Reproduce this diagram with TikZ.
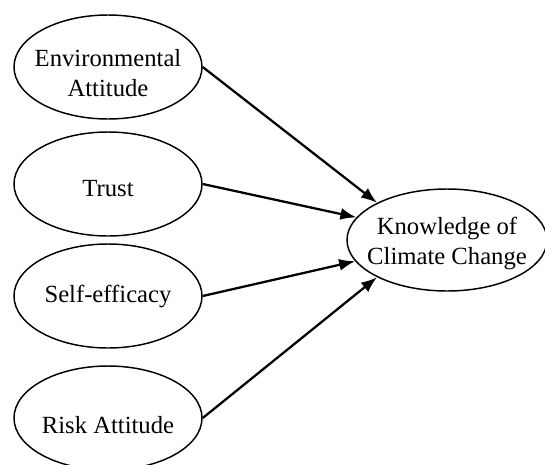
\documentclass[tikz,border=0pt]{standalone}
\usepackage{fontspec}
\setmainfont{Liberation Serif}
\usetikzlibrary{arrows.meta,shapes.geometric}

% Centred text of an oval, shifted vertically by #1; the box itself takes no room
\newcommand\ovaltext[2]{\makebox[0pt]{\raisebox{#1}[0pt][0pt]{\begin{tabular}{@{}c@{}}#2\end{tabular}}}}

\tikzset{
  oval/.style={ellipse, draw=black, line width=1.1pt, inner sep=0pt,
    minimum width=141pt, minimum height=78pt,
    font=\fontsize{18.5pt}{22pt}\selectfont},
  bigoval/.style={oval, minimum width=150pt, minimum height=76.5pt},
  path link/.style={line width=1.7pt, -{Latex[length=12pt,width=9pt]}}
}

\begin{document}
\begin{tikzpicture}[x=0.75pt,y=-0.75pt]
  \useasboundingbox (0,0) rectangle (545,464);

  % predictors
  \node[oval] (env)   at (108,67)  {\ovaltext{-10.9pt}{Environmental\\Attitude}};
  \node[oval] (trust) at (108,184) {\ovaltext{-9.4pt}{Trust}};
  \node[oval] (self)  at (108,296) {\ovaltext{-4.9pt}{Self-efficacy}};
  \node[oval] (risk)  at (108,418) {\ovaltext{-11.6pt}{Risk Attitude}};

  % outcome
  \node[bigoval] (know) at (447,240) {\ovaltext{-7.1pt}{Knowledge of\\Climate Change}};

  % paths
  \draw[path link] (env.east)   -- (know.152.4);
  \draw[path link] (trust.east) -- (know.166.6);
  \draw[path link] (self.east)  -- (know.193.4);
  \draw[path link] (risk.east)  -- (know.208.5);
\end{tikzpicture}
\end{document}
